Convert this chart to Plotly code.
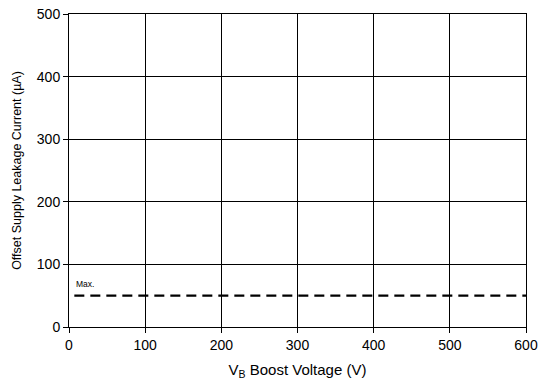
import plotly.graph_objects as go

x_max_line = [7, 600]
y_max_line = [50, 50]
x_ticks = [0, 100, 200, 300, 400, 500, 600]
y_ticks = [0, 100, 200, 300, 400, 500]

FONT = "Liberation Sans, Arial"

fig = go.Figure()
fig.add_trace(go.Scatter(x=x_max_line, y=y_max_line, mode="lines",
                         line=dict(color="black", width=2.2, dash="10px,6px"),
                         showlegend=False, hoverinfo="skip"))
fig.add_annotation(x=7, y=58, text="Max.", showarrow=False, xanchor="left", yanchor="bottom",
                   font=dict(size=8.5, color="black", family=FONT))

axis_common = dict(showline=True, linecolor="black", linewidth=1, mirror=True,
                   showgrid=True, gridcolor="black", gridwidth=1, zeroline=False,
                   ticks="outside", ticklen=5, tickcolor="black", automargin=False,
                   tickfont=dict(size=14, color="black", family=FONT))

fig.update_xaxes(range=[0, 600], tickvals=x_ticks, **axis_common,
                 title=dict(text="V<sub>B</sub> Boost Voltage (V)", standoff=12,
                            font=dict(size=15, color="black", family=FONT)))
fig.update_yaxes(range=[0, 500], tickvals=y_ticks, **axis_common,
                 title=dict(text="Offset Supply Leakage Current (µA)", standoff=12,
                            font=dict(size=12.5, color="black", family=FONT)))

fig.update_layout(width=542, height=385, margin=dict(l=69, r=16, t=14, b=58),
                  plot_bgcolor="white", paper_bgcolor="white")
fig.write_html("out.html", config={"displayModeBar": False},
               post_script="document.body.style.margin='0';document.body.style.overflow='hidden';")
